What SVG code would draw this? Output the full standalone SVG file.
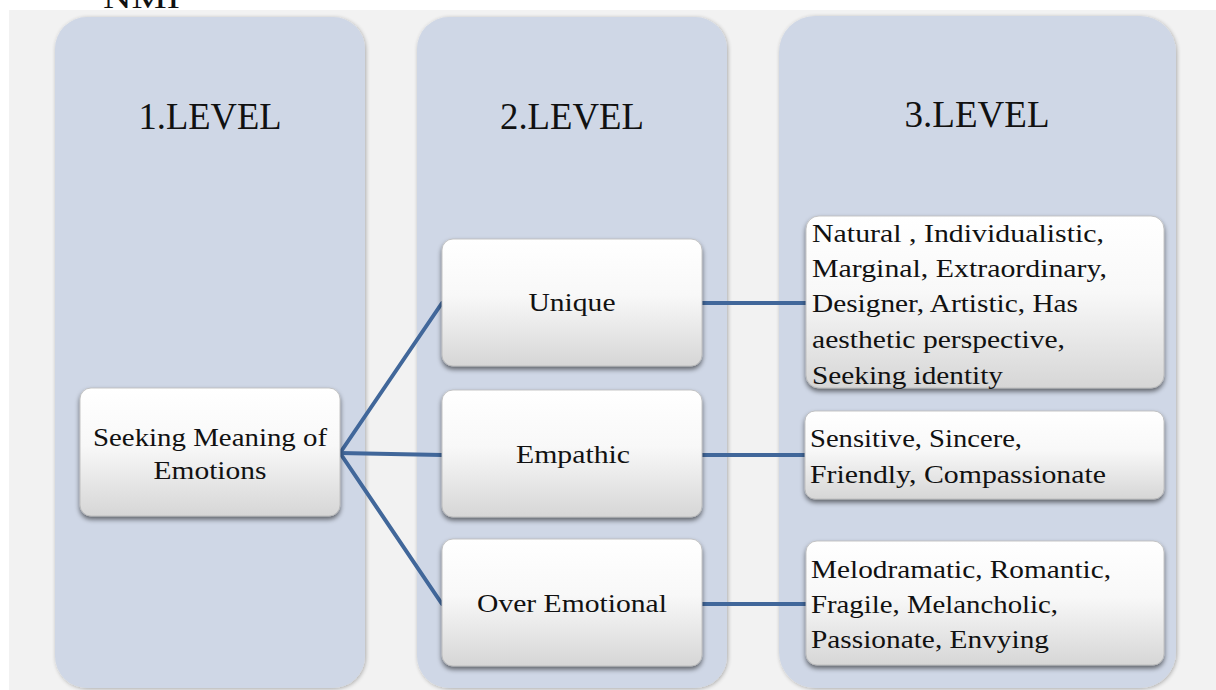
<svg xmlns="http://www.w3.org/2000/svg" width="1216" height="690" viewBox="0 0 1216 690">
<defs>
<style>
.col{fill:#cfd7e6;filter:url(#colsh)}
.box{fill:url(#bg);stroke:#b8b8b8;stroke-width:0.8;filter:url(#boxsh)}
.t{font-family:"Liberation Serif","DejaVu Serif",serif;fill:#111}
.title{font-size:37px;text-anchor:middle}
.lbl{font-size:26px;text-anchor:middle}
.lst{font-size:26px}
.con{stroke:#41679a;stroke-width:4;fill:none;stroke-linecap:round}
</style>
<linearGradient id="bg" x1="0" y1="0" x2="0" y2="1">
<stop offset="0" stop-color="#ffffff"/>
<stop offset="0.45" stop-color="#f8f8f8"/>
<stop offset="1" stop-color="#d6d6d6"/>
</linearGradient>
<filter id="colsh" x="-5%" y="-5%" width="110%" height="110%">
<feGaussianBlur in="SourceAlpha" stdDeviation="2"/>
<feOffset dx="1" dy="1"/>
<feComponentTransfer><feFuncA type="linear" slope="0.3"/></feComponentTransfer>
<feMerge><feMergeNode/><feMergeNode in="SourceGraphic"/></feMerge>
</filter>
<filter id="boxsh" x="-10%" y="-10%" width="120%" height="130%">
<feGaussianBlur in="SourceAlpha" stdDeviation="2.5"/>
<feOffset dx="0" dy="3"/>
<feComponentTransfer><feFuncA type="linear" slope="0.55"/></feComponentTransfer>
<feMerge><feMergeNode/><feMergeNode in="SourceGraphic"/></feMerge>
</filter>
</defs>
<rect x="0" y="0" width="1216" height="690" fill="#ffffff"/>
<text class="t" x="103" y="8" style="font-size:32px" textLength="77" lengthAdjust="spacingAndGlyphs">NMI</text>
<rect x="9" y="10" width="1207" height="680" fill="#f2f2f2"/>

<g id="col1"><rect class="col" x="55" y="17" width="310" height="671" rx="32"/><text class="t title" x="210" y="129" textLength="143" lengthAdjust="spacingAndGlyphs">1.LEVEL</text></g>
<g id="col2"><rect class="col" x="417" y="17" width="310" height="671" rx="32"/><text class="t title" x="572" y="129" textLength="144" lengthAdjust="spacingAndGlyphs">2.LEVEL</text></g>
<g id="col3"><rect class="col" x="779" y="16" width="397" height="672" rx="36"/><text class="t title" x="977" y="127" textLength="145" lengthAdjust="spacingAndGlyphs">3.LEVEL</text></g>

<g id="connectors">
<line class="con" x1="340" y1="453" x2="442" y2="303"/>
<line class="con" x1="340" y1="453" x2="442" y2="455"/>
<line class="con" x1="340" y1="453" x2="442" y2="604"/>
<line class="con" x1="702" y1="303" x2="806" y2="303"/>
<line class="con" x1="702" y1="455" x2="806" y2="455"/>
<line class="con" x1="702" y1="604" x2="806" y2="604"/>
</g>

<g id="root"><rect class="box" x="80" y="388" width="260" height="128" rx="11"/>
<text class="t lbl" x="210" y="446" textLength="234" lengthAdjust="spacingAndGlyphs">Seeking Meaning of</text>
<text class="t lbl" x="210" y="479" textLength="113" lengthAdjust="spacingAndGlyphs">Emotions</text></g>

<g id="unique"><rect class="box" x="442" y="239" width="260" height="127" rx="11"/>
<text class="t lbl" x="572" y="311" textLength="87" lengthAdjust="spacingAndGlyphs">Unique</text></g>
<g id="empathic"><rect class="box" x="442" y="390" width="260" height="127" rx="11"/>
<text class="t lbl" x="573" y="463" textLength="114" lengthAdjust="spacingAndGlyphs">Empathic</text></g>
<g id="overemotional"><rect class="box" x="442" y="539" width="260" height="127" rx="11"/>
<text class="t lbl" x="572" y="612" textLength="190" lengthAdjust="spacingAndGlyphs">Over Emotional</text></g>

<g id="traitsA"><rect class="box" x="806" y="216" width="358" height="172" rx="13"/>
<text class="t lst" x="812" y="242" textLength="292" lengthAdjust="spacingAndGlyphs">Natural , Individualistic,</text>
<text class="t lst" x="812" y="277" textLength="295" lengthAdjust="spacingAndGlyphs">Marginal, Extraordinary,</text>
<text class="t lst" x="812" y="312" textLength="266" lengthAdjust="spacingAndGlyphs">Designer, Artistic, Has</text>
<text class="t lst" x="812" y="348" textLength="253" lengthAdjust="spacingAndGlyphs">aesthetic perspective,</text>
<text class="t lst" x="812" y="384" textLength="191" lengthAdjust="spacingAndGlyphs">Seeking identity</text></g>

<g id="traitsB"><rect class="box" x="805" y="411" width="359" height="88" rx="10"/>
<text class="t lst" x="810" y="447" textLength="212" lengthAdjust="spacingAndGlyphs">Sensitive, Sincere,</text>
<text class="t lst" x="810" y="483" textLength="296" lengthAdjust="spacingAndGlyphs">Friendly, Compassionate</text></g>

<g id="traitsC"><rect class="box" x="806" y="541" width="358" height="124" rx="11"/>
<text class="t lst" x="811" y="578" textLength="300" lengthAdjust="spacingAndGlyphs">Melodramatic, Romantic,</text>
<text class="t lst" x="811" y="613" textLength="247" lengthAdjust="spacingAndGlyphs">Fragile, Melancholic,</text>
<text class="t lst" x="811" y="648" textLength="238" lengthAdjust="spacingAndGlyphs">Passionate, Envying</text></g>
</svg>
